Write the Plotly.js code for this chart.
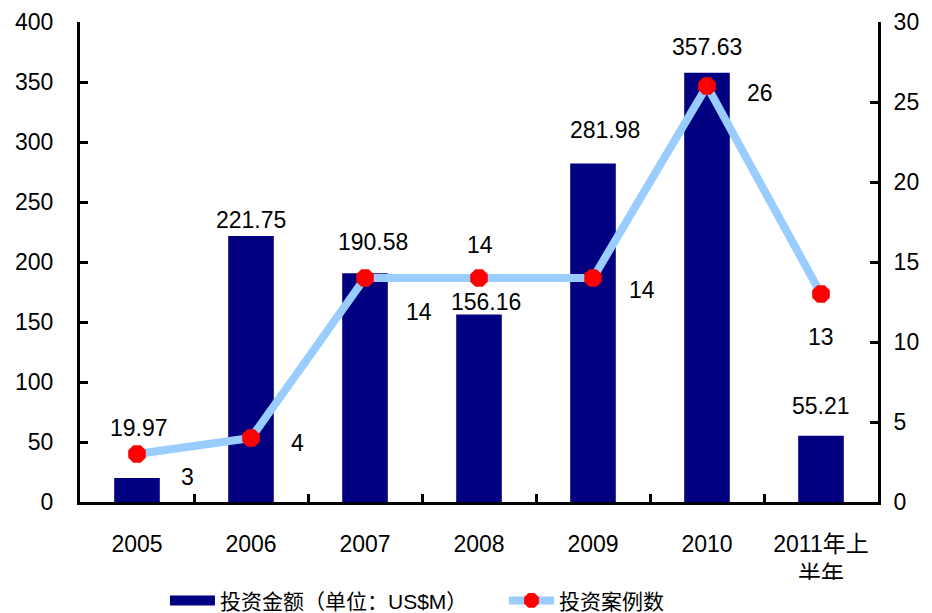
<!DOCTYPE html>
<html><head><meta charset="utf-8">
<script src="https://cdn.plot.ly/plotly-3.0.1.min.js"></script>
<style>body{margin:0}#c{width:932px;height:613px}</style>
</head><body><div id="c"></div>
<script>
const categories = ['2005','2006','2007','2008','2009','2010','2011年上<br>半年'];
const amounts = [19.97, 221.75, 190.58, 156.16, 281.98, 357.63, 55.21];
const amountLabels = ['19.97','221.75','190.58','156.16','281.98','357.63','55.21'];
const cases = [3, 4, 14, 14, 14, 26, 13];
const caseLabels = ['3','4','14','14','14','26','13'];
const barName = '投资金额（单位：US$M）';
const lineName = '投资案例数';

// label offsets (px) — styling only
const barLabelShift = [[2,50],[0,16],[8,31],[7,13],[12,34],[0,26],[0,30]];
const lineLabelShift = [[50,-23],[46,-5],[54,-34],[1,33],[49,-12],[53,-7],[0,-43]];

const font = {family:'Liberation Sans, Arial, Noto Sans CJK SC, sans-serif', size:23, color:'#000'};
const legendFont = {family:'Liberation Sans, Arial, Noto Sans CJK SC, sans-serif', size:21, color:'#000'};
const annotations = [];
categories.forEach((c,i)=>{
  annotations.push({x:i, y:amounts[i], xref:'x', yref:'y', text:amountLabels[i], showarrow:false,
    xshift:barLabelShift[i][0], yshift:barLabelShift[i][1], font:font});
  annotations.push({x:i, y:cases[i], xref:'x', yref:'y2', text:caseLabels[i], showarrow:false,
    xshift:lineLabelShift[i][0], yshift:lineLabelShift[i][1], font:font});
});

const data = [
  {type:'bar', x:categories, y:amounts, name:barName, marker:{color:'#000080'}, width:0.4, showlegend:false},
  {type:'scatter', mode:'lines', x:[null], y:[null], name:barName, line:{color:'#000080', width:11}, showlegend:true},
  {type:'scatter', mode:'lines+markers', x:categories, y:cases, yaxis:'y2', name:lineName,
   line:{color:'#99CCFF', width:8}, marker:{color:'#FF0000', size:19, symbol:'octagon'}}
];
const layout = {
  width:932, height:613, margin:{l:80, r:54, t:22, b:111, autoexpand:false},
  paper_bgcolor:'#fff', plot_bgcolor:'#fff', font:font, showlegend:true,
  xaxis:{type:'category', range:[-0.5,6.5], showline:true, linecolor:'#000', linewidth:3, ticks:'inside', tickson:'boundaries',
    ticklen:8, tickwidth:3, tickcolor:'#000', showgrid:false, zeroline:false, tickfont:font, tickangle:0, ticklabelstandoff:19},
  yaxis:{range:[0,400], dtick:50, showline:true, linecolor:'#000', linewidth:3, ticks:'inside', ticklen:8,
    tickwidth:3, tickcolor:'#000', showgrid:false, zeroline:false, tickfont:font, ticklabelstandoff:19},
  yaxis2:{range:[0,30], dtick:5, overlaying:'y', side:'right', showline:true, linecolor:'#000', linewidth:3,
    ticks:'inside', ticklen:8, tickwidth:3, tickcolor:'#000', showgrid:false, zeroline:false, tickfont:font, ticklabelstandoff:8},
  legend:{orientation:'h', xref:'container', x:0.177, xanchor:'left', yref:'container', y:0.02, yanchor:'middle', font:legendFont, entrywidth:279, itemwidth:45},
  annotations:annotations
};
Plotly.newPlot('c', data, layout, {displayModeBar:false, staticPlot:true});
</script></body></html>
